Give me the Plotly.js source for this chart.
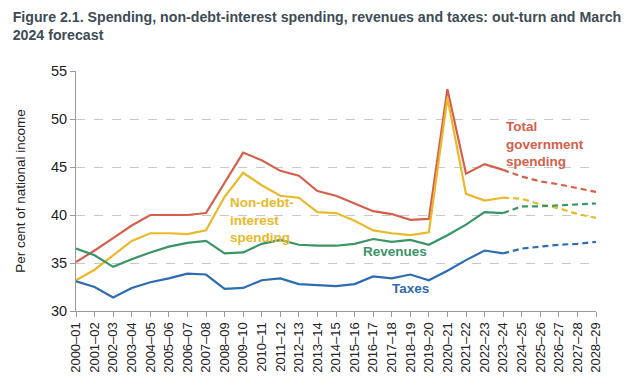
<!DOCTYPE html>
<html>
<head>
<meta charset="utf-8">
<script src="https://cdn.plot.ly/plotly-3.0.1.min.js"></script>
<style>html,body{margin:0;padding:0;background:#fff;}#chart{width:634px;height:391px;}</style>
</head>
<body>
<div id="chart"></div>
<script>
const years = ["2000–01","2001–02","2002–03","2003–04","2004–05","2005–06","2006–07","2007–08","2008–09","2009–10","2010–11","2011–12","2012–13","2013–14","2014–15","2015–16","2016–17","2017–18","2018–19","2019–20","2020–21","2021–22","2022–23","2023–24","2024–25","2025–26","2026–27","2027–28","2028–29"];
const lastOutturn = "2023–24";
const totalSpending = [35.1,36.3,37.6,38.9,40.0,40.0,40.0,40.2,43.3,46.5,45.7,44.6,44.1,42.5,42.0,41.2,40.4,40.1,39.5,39.6,53.1,44.3,45.3,44.7,44.0,43.5,43.2,42.8,42.4];
const nonDebtInterest = [33.2,34.3,35.8,37.3,38.1,38.1,38.0,38.4,41.9,44.4,43.1,42.0,41.8,40.3,40.2,39.4,38.4,38.1,37.9,38.2,52.2,42.2,41.5,41.8,41.7,41.1,40.7,40.1,39.7];
const revenues = [36.5,35.8,34.6,35.4,36.1,36.7,37.1,37.3,36.0,36.1,37.0,37.4,36.9,36.8,36.8,37.0,37.5,37.2,37.4,36.9,37.9,39.0,40.3,40.2,40.9,40.9,41.0,41.1,41.2];
const taxes = [33.1,32.5,31.4,32.4,33.0,33.4,33.9,33.8,32.3,32.4,33.2,33.4,32.8,32.7,32.6,32.8,33.6,33.4,33.8,33.2,34.2,35.3,36.3,36.0,36.5,36.7,36.9,37.0,37.2];

const series = [
  {name:"Total government spending", y: totalSpending, color:"#D4604B"},
  {name:"Non-debt-interest spending", y: nonDebtInterest, color:"#E9B92A"},
  {name:"Revenues", y: revenues, color:"#3A9466"},
  {name:"Taxes", y: taxes, color:"#2D6CB0"}
];

const cut = years.indexOf(lastOutturn);
const traces = [];
series.forEach(s => {
  traces.push({x: years, y: s.y.map((v,i)=> i<=cut ? v : null), type:"scatter", mode:"lines",
    line:{color:s.color, width:2.2}, hoverinfo:"skip", showlegend:false});
  traces.push({x: years, y: s.y.map((v,i)=> i>=cut ? v : null), type:"scatter", mode:"lines",
    line:{color:s.color, width:2.2, dash:"6px,4px"}, hoverinfo:"skip", showlegend:false});
});

const lblFont = (c)=>({family:"Arial, Liberation Sans, sans-serif", size:13.5, color:c, weight:"bold"});
const layout = {
  width:634, height:391,
  margin:{l:76, r:38, t:71, b:80},
  paper_bgcolor:"#fff", plot_bgcolor:"#fff",
  font:{family:"Arial, Liberation Sans, sans-serif", color:"#222"},
  title:{text:"Figure 2.1. Spending, non-debt-interest spending, revenues and taxes: out-turn and March<br>2024 forecast",
    x:0.02, xref:"container", xanchor:"left", y:0.945, yref:"container", yanchor:"top",
    font:{family:"Arial, Liberation Sans, sans-serif", size:14.2, color:"#3E4C55", weight:"bold"}},
  xaxis:{type:"category", categoryorder:"array", categoryarray:years, range:[0,28],
    tickangle:-90, tickfont:{size:13, color:"#222"}, showgrid:false, showline:true,
    linecolor:"#9a9a9a", linewidth:1, ticks:"outside", ticklen:5, tickcolor:"#9a9a9a", zeroline:false},
  yaxis:{range:[30,55], dtick:5, tickfont:{size:14.5, color:"#222"}, showgrid:true, gridcolor:"#c8c8c8",
    griddash:"dash", gridwidth:1, showline:true, linecolor:"#9a9a9a", linewidth:1, ticks:"outside",
    ticklen:5, tickcolor:"#9a9a9a", zeroline:false,
    title:{text:"Per cent of national income", font:{size:13.5, color:"#222"}, standoff:22}},
  annotations:[
    {x:23.05, y:50.2, xref:"x", yref:"y", text:"Total<br>government<br>spending", showarrow:false, xanchor:"left", yanchor:"top", align:"left", font:lblFont("#D4604B")},
    {x:8.2, y:42.3, xref:"x", yref:"y", text:"Non-debt-<br>interest<br>spending", showarrow:false, xanchor:"left", yanchor:"top", align:"left", font:lblFont("#E9B92A")},
    {x:17.2, y:36.15, xref:"x", yref:"y", text:"Revenues", showarrow:false, xanchor:"center", yanchor:"middle", font:lblFont("#3A9466")},
    {x:18.0, y:32.3, xref:"x", yref:"y", text:"Taxes", showarrow:false, xanchor:"center", yanchor:"middle", font:lblFont("#2D6CB0")}
  ]
};
Plotly.newPlot("chart", traces, layout, {staticPlot:true, displayModeBar:false});
</script>
</body>
</html>
